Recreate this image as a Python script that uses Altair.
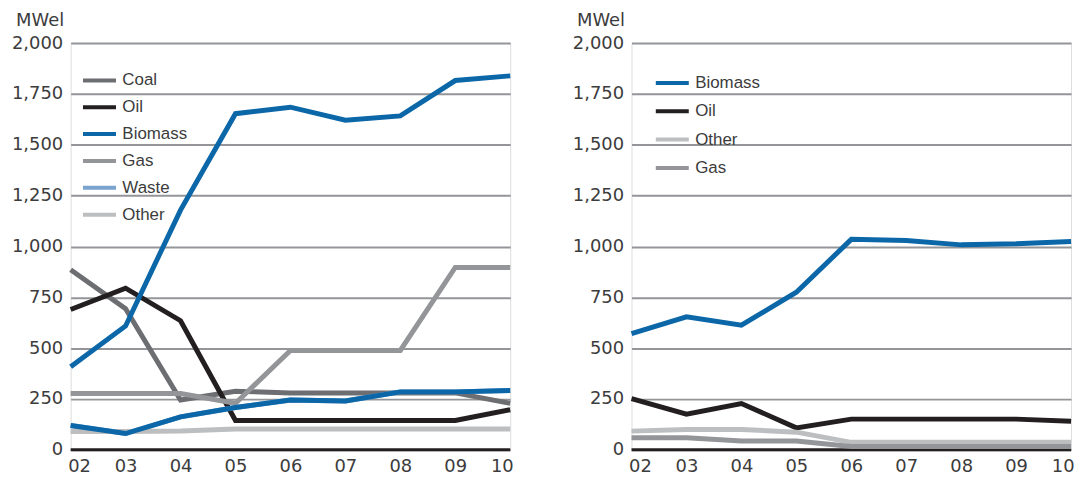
import altair as alt
import pandas as pd

years = ["02", "03", "04", "05", "06", "07", "08", "09", "10"]

left_series = ["Coal", "Oil", "Biomass", "Gas", "Waste", "Other"]
left_colors = ["#6d6e71", "#231f20", "#0b67a8", "#939598", "#7aa3cf", "#bcbec0"]
coal_l = [886, 694, 245, 288, 280, 280, 280, 280, 229]
oil_l = [690, 795, 635, 144, 144, 144, 144, 144, 197]
biomass_l = [409, 609, 1179, 1653, 1685, 1621, 1642, 1816, 1839]
gas_l = [277, 277, 277, 229, 489, 489, 489, 897, 897]
waste_l = [120, 80, 162, 208, 245, 240, 285, 285, 292]
other_l = [90, 90, 93, 103, 103, 103, 103, 103, 103]

right_series = ["Biomass", "Oil", "Other", "Gas"]
right_colors = ["#0b67a8", "#231f20", "#bcbec0", "#939598"]
biomass_r = [572, 654, 613, 775, 1035, 1029, 1008, 1013, 1024]
oil_r = [252, 175, 228, 108, 151, 151, 151, 151, 141]
other_r = [92, 100, 100, 87, 37, 37, 37, 37, 37]
gas_r = [59, 59, 43, 43, 16, 16, 16, 16, 16]

y_ticks = [0, 250, 500, 750, 1000, 1250, 1500, 1750, 2000]
unit_label = "MWel"
waste_line_color = "#0b67a8"


def long_df(names, columns):
    rows = []
    for name, vals in zip(names, columns):
        for yr, v in zip(years, vals):
            rows.append({"year": yr, "series": name, "value": v})
    return pd.DataFrame(rows)


left_df = long_df(left_series, [coal_l, oil_l, biomass_l, gas_l, waste_l, other_l])
right_df = long_df(right_series, [biomass_r, oil_r, other_r, gas_r])

AX_FONT = "DejaVu Sans"
LEG_FONT = "Liberation Sans"
TXT = "#3c3c3c"

x_enc = alt.X(
    "year:O",
    sort=years,
    scale=alt.Scale(type="point", padding=0),
    axis=alt.Axis(
        title=None, labelAngle=0, ticks=False, domain=False, grid=False,
        labelPadding=8, labelFontSize=18, labelFont=AX_FONT, labelColor=TXT,
        labelFlush=True, labelFlushOffset=3,
    ),
)
y_enc = alt.Y(
    "value:Q",
    scale=alt.Scale(domain=[0, 2000], nice=False),
    axis=alt.Axis(
        values=y_ticks, format=",.0f", ticks=False, domain=False,
        grid=True, gridColor="#939598", gridWidth=2,
        labelPadding=8, labelFontSize=18, labelFont=AX_FONT, labelColor=TXT,
        title=unit_label, titleAngle=0, titleAlign="right",
        titleBaseline="alphabetic", titleX=-7, titleY=-17.5,
        titleFontSize=18, titleFont=AX_FONT, titleFontWeight="normal",
        titleColor=TXT,
    ),
)


def panel(df, names, colors, lx, ly, row_pad, overlay_waste):
    base = alt.Chart(df)
    lines = base.mark_line(strokeWidth=5).encode(
        x=x_enc,
        y=y_enc,
        color=alt.Color(
            "series:N",
            sort=names,
            scale=alt.Scale(domain=names, range=colors),
            legend=alt.Legend(
                title=None, orient="none", legendX=lx, legendY=ly,
                symbolType="stroke", symbolSize=1100, symbolStrokeWidth=4,
                labelFont=LEG_FONT, labelFontSize=17, labelColor=TXT,
                labelOffset=4, rowPadding=row_pad,
            ),
        ),
        order=alt.Order("series:N"),
    )
    zero = alt.Chart(pd.DataFrame({"value": [0]})).mark_rule(
        color="#231f20", strokeWidth=3
    ).encode(y=y_enc)
    layers = [zero, lines]
    if overlay_waste:
        w = base.transform_filter("datum.series == 'Waste'").mark_line(
            strokeWidth=5, color=waste_line_color
        ).encode(x=x_enc, y=y_enc)
        layers.append(w)
    return alt.layer(*layers).properties(width=442, height=409)


left = panel(left_df, left_series, left_colors, 10, 18.5, -5.4, True)
right = panel(right_df, right_series, right_colors, 22, 21, 1.5, False)

chart = (
    alt.hconcat(left, right, spacing=50)
    .resolve_scale(color="independent")
    .resolve_legend(color="independent")
    .properties(padding={"left": 2, "top": 2, "right": 0, "bottom": 0})
    .configure_view(stroke=None)
    .configure(background="white")
)

chart.save("out.html", embed_options={"renderer": "svg", "actions": False})
